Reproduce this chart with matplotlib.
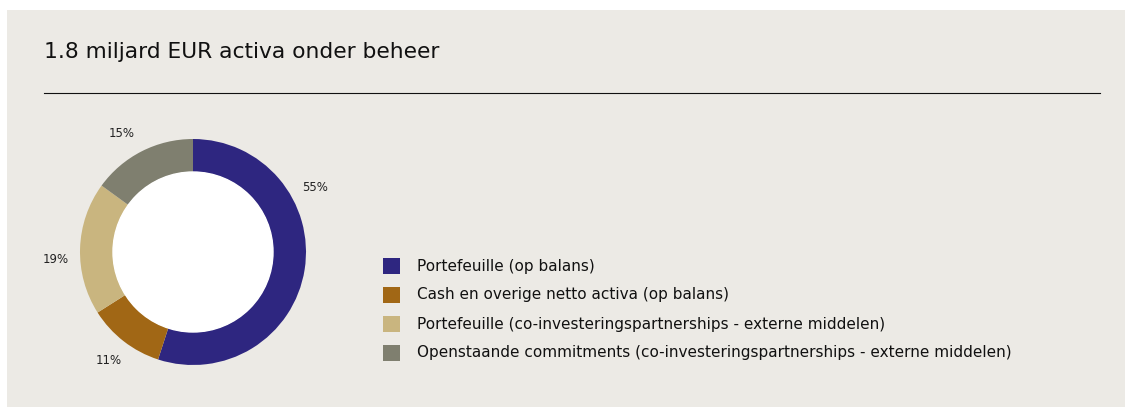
import numpy as np
import matplotlib
matplotlib.use("Agg")
from matplotlib import pyplot as plt
from matplotlib.patches import Rectangle
from matplotlib.lines import Line2D

title = "1.8 miljard EUR activa onder beheer"
categories = [
    "Portefeuille (op balans)",
    "Cash en overige netto activa (op balans)",
    "Portefeuille (co-investeringspartnerships - externe middelen)",
    "Openstaande commitments (co-investeringspartnerships - externe middelen)",
]
shares = [55, 11, 19, 15]
colors = ["#2e2680", "#a16715", "#c9b57f", "#7f7f6f"]

W, H = 1126, 407
plt.rcParams["font.family"] = ["DejaVu Sans"]

fig = plt.figure(figsize=(W / 100, H / 100), dpi=100)
fig.patch.set_facecolor("white")


def fx(px):
    return px / W


def fy(py):
    return 1 - py / H


# beige panel
fig.patches.append(Rectangle((fx(7), 0), fx(1125) - fx(7), fy(10),
                             transform=fig.transFigure, facecolor="#eceae5", edgecolor="none", zorder=-5))

fig.text(fx(44), fy(52), title, fontsize=15.7, color="#111111", va="center", ha="left")
fig.lines.append(Line2D([fx(44), fx(1100)], [fy(93), fy(93)], transform=fig.transFigure,
                        color="#111111", lw=0.8))

# donut
cx, cy, R = 193, 252, 113
half = 1.4 * R
ax = fig.add_axes([fx(cx - half), fy(cy + half), 2 * half / W, 2 * half / H])
ax.set_zorder(2)
wedges, _ = ax.pie(shares, colors=colors, startangle=90, counterclock=False, radius=1,
                   wedgeprops=dict(width=33 / R, edgecolor="none"))
ax.add_patch(plt.Circle((0, 0), 1 - 33 / R, color="white", zorder=3))
ax.set_xlim(-1.4, 1.4)
ax.set_ylim(-1.4, 1.4)
ax.set_aspect("equal")
ax.axis("off")

# label angle nudges (degrees) relative to wedge middle
nudge = [37, 0, 5, 4]
for w, s, n in zip(wedges, shares, nudge):
    ang = np.deg2rad((w.theta1 + w.theta2) / 2 + n)
    d = 1.22
    ax.text(d * np.cos(ang), d * np.sin(ang), f"{s}%", fontsize=8.5, color="#222222",
            ha="center", va="center")

# legend
for i, (lab, c) in enumerate(zip(categories, colors)):
    yc = 266 + i * 29
    fig.patches.append(Rectangle((fx(383), fy(yc + 8)), 17 / W, 16 / H, transform=fig.transFigure,
                                 facecolor=c, edgecolor="none"))
    fig.text(fx(417), fy(yc), lab, fontsize=11, color="#111111", va="center", ha="left")

fig.savefig("out.png", dpi=100, facecolor=fig.get_facecolor())
